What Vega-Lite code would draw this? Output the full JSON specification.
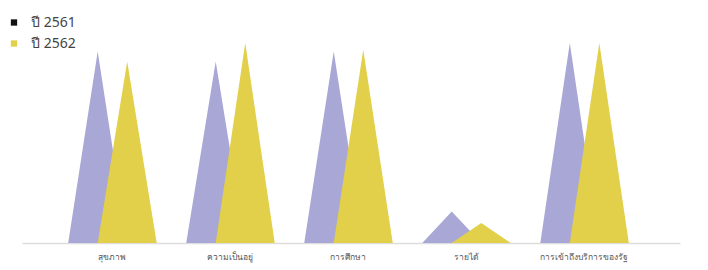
{
  "$schema": "https://vega.github.io/schema/vega-lite/v6.json",
  "width": 658,
  "height": 200,
  "autosize": {"type": "none"},
  "padding": {"left": 22, "top": 43, "right": 28, "bottom": 27},
  "background": "#ffffff",
  "config": {"view": {"stroke": null}, "font": "Noto Sans"},
  "data": {"values": [
    {"category": "สุขภาพ", "year": "ปี 2561", "value": 191.6},
    {"category": "ความเป็นอยู่", "year": "ปี 2561", "value": 181.6},
    {"category": "การศึกษา", "year": "ปี 2561", "value": 191.6},
    {"category": "รายได้", "year": "ปี 2561", "value": 31.6},
    {"category": "การเข้าถึงบริการของรัฐ", "year": "ปี 2561", "value": 200},
    {"category": "สุขภาพ", "year": "ปี 2562", "value": 181.6},
    {"category": "ความเป็นอยู่", "year": "ปี 2562", "value": 200},
    {"category": "การศึกษา", "year": "ปี 2562", "value": 193.3},
    {"category": "รายได้", "year": "ปี 2562", "value": 20},
    {"category": "การเข้าถึงบริการของรัฐ", "year": "ปี 2562", "value": 200}
  ]},
  "resolve": {"scale": {"x": "independent", "color": "independent"}, "legend": {"color": "independent"}},
  "layer": [
    {
      "transform": [
        {"calculate": "datum.year", "as": "slot"},
        {"impute": "value", "key": "slot", "keyvals": ["0", "ปี 2561", "ปี 2562", "๙"], "groupby": ["category", "year"], "value": 0},
        {"calculate": "datum.category + '|' + datum.slot", "as": "pos"}
      ],
      "mark": {"type": "area", "opacity": 1},
      "encoding": {
        "x": {
          "field": "pos", "type": "nominal",
          "scale": {"type": "point", "padding": 0.65, "align": 0.435, "domain": [
            "|L",
            "สุขภาพ|0", "สุขภาพ|ปี 2561", "สุขภาพ|ปี 2562", "สุขภาพ|๙",
            "ความเป็นอยู่|0", "ความเป็นอยู่|ปี 2561", "ความเป็นอยู่|ปี 2562", "ความเป็นอยู่|๙",
            "การศึกษา|0", "การศึกษา|ปี 2561", "การศึกษา|ปี 2562", "การศึกษา|๙",
            "รายได้|0", "รายได้|ปี 2561", "รายได้|ปี 2562", "รายได้|๙",
            "การเข้าถึงบริการของรัฐ|0", "การเข้าถึงบริการของรัฐ|ปี 2561", "การเข้าถึงบริการของรัฐ|ปี 2562", "การเข้าถึงบริการของรัฐ|๙",
            "|R"
          ]},
          "axis": null
        },
        "y": {"field": "value", "type": "quantitative", "stack": null, "scale": {"domain": [0, 200]}, "axis": null},
        "color": {
          "field": "year", "type": "nominal",
          "scale": {"domain": ["ปี 2561", "ปี 2562"], "range": ["#a9a7d5", "#e2d04a"]},
          "legend": null
        },
        "detail": {"field": "category"}
      }
    },
    {
      "mark": {"type": "text", "text": ""},
      "encoding": {
        "x": {
          "field": "category", "type": "nominal", "sort": null,
          "scale": {"type": "band", "paddingInner": 0, "paddingOuter": 0.288, "align": 0.463},
          "axis": {"title": null, "labelAngle": 0, "ticks": false, "labelFontSize": 8.5, "labelColor": "#555555", "domainColor": "#dddddd", "domainWidth": 1.5, "labelPadding": 9}
        },
        "color": {
          "field": "year", "type": "nominal",
          "scale": {"domain": ["ปี 2561", "ปี 2562"], "range": ["#111111", "#e2d04a"]},
          "legend": {
            "title": null, "orient": "none", "legendX": -15, "legendY": -27.5,
            "symbolType": "square", "symbolSize": 40, "symbolOpacity": 1, "labelFontSize": 14, "labelColor": "#444444", "rowPadding": 7, "labelOffset": 10
          }
        }
      }
    }
  ]
}
